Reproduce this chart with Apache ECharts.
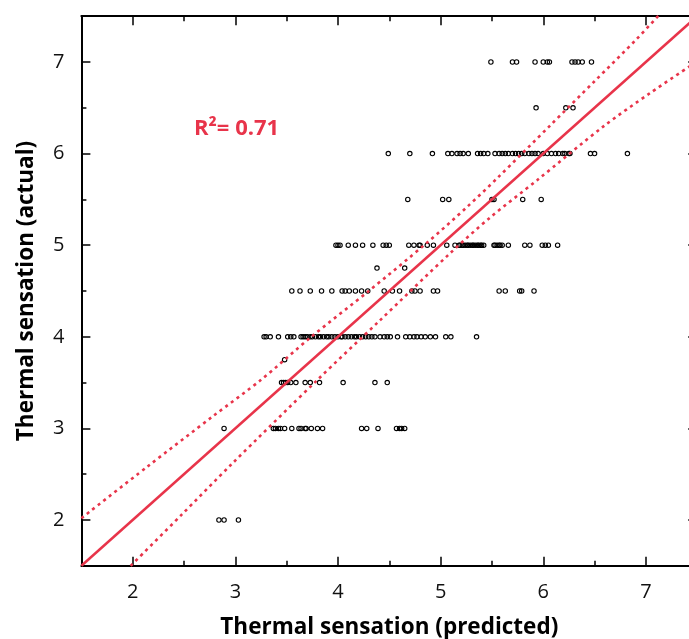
<!DOCTYPE html>
<html><head><meta charset="utf-8">
<script src="https://cdn.jsdelivr.net/npm/echarts@6/dist/echarts.min.js"></script>
<style>html,body{margin:0;padding:0;background:#fff}#c{width:689px;height:639px}</style>
</head><body><div id="c"></div>
<script>
// Predicted thermal sensation values, grouped by actual sensation level
const pred7   = [5.49, 5.70, 5.74, 5.92, 6.00, 6.04, 6.06, 6.28, 6.31, 6.34, 6.38, 6.47];
const pred65  = [5.93, 6.22, 6.29];
const pred6   = [4.49, 4.70, 4.92, 5.07, 5.11, 5.16, 5.19, 5.22, 5.27, 5.36, 5.39, 5.42, 5.46, 5.53, 5.57, 5.60, 5.63, 5.66, 5.70, 5.73, 5.76, 5.79, 5.82, 5.86, 5.89, 5.92, 5.95, 6.00, 6.04, 6.08, 6.12, 6.15, 6.19, 6.21, 6.25, 6.26, 6.46, 6.50, 6.82];
const pred55  = [4.68, 5.02, 5.08, 5.50, 5.52, 5.80, 5.98];
const pred5   = [3.98, 4.00, 4.02, 4.10, 4.17, 4.24, 4.34, 4.44, 4.47, 4.50, 4.69, 4.74, 4.79, 4.80, 4.87, 4.93, 5.06, 5.14, 5.18, 5.19, 5.21, 5.22, 5.24, 5.26, 5.27, 5.29, 5.31, 5.32, 5.34, 5.36, 5.37, 5.39, 5.40, 5.42, 5.52, 5.53, 5.55, 5.57, 5.58, 5.60, 5.66, 5.82, 5.87, 5.99, 6.02, 6.05, 6.14];
const pred475 = [4.38, 4.65];
const pred45  = [3.55, 3.63, 3.73, 3.84, 3.94, 4.04, 4.07, 4.11, 4.17, 4.23, 4.29, 4.45, 4.53, 4.60, 4.72, 4.75, 4.80, 4.93, 4.97, 5.57, 5.63, 5.77, 5.79, 5.91];
const pred4   = [3.28, 3.30, 3.34, 3.42, 3.51, 3.54, 3.57, 3.64, 3.66, 3.68, 3.70, 3.73, 3.75, 3.78, 3.81, 3.83, 3.86, 3.89, 3.91, 3.94, 3.97, 4.00, 4.03, 4.04, 4.07, 4.10, 4.13, 4.16, 4.18, 4.21, 4.24, 4.27, 4.30, 4.33, 4.36, 4.41, 4.45, 4.48, 4.51, 4.58, 4.66, 4.70, 4.74, 4.77, 4.81, 4.85, 4.90, 4.95, 5.05, 5.10, 5.35];
const pred375 = [3.48];
const pred35  = [3.45, 3.47, 3.49, 3.51, 3.54, 3.59, 3.68, 3.73, 3.82, 4.05, 4.36, 4.48];
const pred3   = [2.89, 3.37, 3.39, 3.42, 3.44, 3.48, 3.55, 3.62, 3.64, 3.68, 3.69, 3.74, 3.80, 3.85, 4.23, 4.28, 4.39, 4.57, 4.60, 4.62, 4.65];
const pred2   = [2.84, 2.89, 3.03];

const actualLevels = [7, 6.5, 6, 5.5, 5, 4.75, 4.5, 4, 3.75, 3.5, 3, 2];
const predictedGroups = [pred7, pred65, pred6, pred55, pred5, pred475, pred45, pred4, pred375, pred35, pred3, pred2];

// Regression line and confidence band
const fitX = [1.5, 7.5];
const fitY = [1.5, 7.5];
const upperBandX = [1.5, 2.14, 2.79, 3.25, 3.74, 4.3, 4.86, 5.26, 5.55, 6.07, 6.5, 6.91, 7.15];
const upperBandY = [2.02, 2.58, 3.14, 3.53, 4.0, 4.5, 5.02, 5.42, 5.73, 6.31, 6.79, 7.25, 7.54];
const lowerBandX = [1.98, 2.47, 2.955, 3.8, 4.4, 5.1, 5.48, 5.94, 6.59, 7.04, 7.45];
const lowerBandY = [1.5, 2.05, 2.6, 3.53, 4.17, 4.92, 5.3, 5.71, 6.3, 6.66, 6.97];

const majorTicks = [2, 3, 4, 5, 6, 7];
const r2Label = 'R²= 0.71';
const xTitle = 'Thermal sensation (predicted)';
const yTitle = 'Thermal sensation (actual)';

const RED = '#E8344A';
const FONT = 'Open Sans';

const scatterData = [];
actualLevels.forEach((lv, i) => predictedGroups[i].forEach(x => scatterData.push([x, lv])));
const zip = (a, b) => a.map((v, i) => [v, b[i]]);

function baseAxis(pos, withLabels, name, gap) {
  const isX = pos === 'bottom' || pos === 'top';
  return {
    type: 'value', position: pos, min: 1.5, max: 7.5, interval: 0.5,
    axisLine: { show: true, onZero: false, lineStyle: { color: '#000', width: 2 } },
    axisTick: { show: true, inside: true, length: 5, lineStyle: { color: '#000', width: 1.5 } },
    axisLabel: withLabels ? { show: true, customValues: majorTicks, margin: isX ? 16 : 17, fontSize: 20, color: '#111', fontFamily: FONT } : { show: false },
    splitLine: { show: false },
    name: name || '', nameLocation: 'middle', nameGap: gap || 0,
    nameTextStyle: { fontSize: 22.5, fontWeight: 'bold', color: '#000', fontFamily: FONT }
  };
}
function majorAxis(pos) {
  return {
    type: 'value', position: pos, min: 1.5, max: 7.5, interval: 0.5,
    axisLine: { show: false, onZero: false },
    axisTick: { show: true, inside: true, length: 9, customValues: majorTicks, lineStyle: { color: '#000', width: 1.5 } },
    axisLabel: { show: false }, splitLine: { show: false }
  };
}

const chart = echarts.init(document.getElementById('c'), null, { renderer: 'canvas' });
chart.setOption({
  backgroundColor: '#fff',
  animation: false,
  title: { text: r2Label, left: 189, top: 113, textStyle: { color: RED, fontSize: 22, fontWeight: 'bold', fontFamily: FONT } },
  grid: { left: 81.4, top: 16.2, width: 615.8, height: 549.6, containLabel: false, outerBoundsMode: 'none' },
  xAxis: [
    baseAxis('bottom', true, xTitle, 50),
    majorAxis('bottom'),
    baseAxis('top', false),
    majorAxis('top')
  ],
  yAxis: [
    baseAxis('left', true, yTitle, 43),
    majorAxis('left'),
    baseAxis('right', false),
    majorAxis('right')
  ],
  series: [
    {
      type: 'scatter', xAxisIndex: 0, yAxisIndex: 0, data: scatterData,
      symbol: 'circle', symbolSize: 4.4,
      itemStyle: { color: 'rgba(255,255,255,0)', borderColor: '#000', borderWidth: 1.1, opacity: 1 },
      z: 2
    },
    {
      type: 'line', xAxisIndex: 0, yAxisIndex: 0, data: zip(fitX, fitY), showSymbol: false, symbol: 'none',
      lineStyle: { color: RED, width: 2.5 }, clip: true, z: 3
    },
    {
      type: 'line', xAxisIndex: 0, yAxisIndex: 0, data: zip(upperBandX, upperBandY), showSymbol: false, symbol: 'none', smooth: 0.3,
      lineStyle: { color: RED, width: 2.6, type: [3, 4], cap: 'butt' }, clip: true, z: 3
    },
    {
      type: 'line', xAxisIndex: 0, yAxisIndex: 0, data: zip(lowerBandX, lowerBandY), showSymbol: false, symbol: 'none', smooth: 0.3,
      lineStyle: { color: RED, width: 2.6, type: [3, 4], cap: 'butt' }, clip: true, z: 3
    }
  ]
});
</script></body></html>
